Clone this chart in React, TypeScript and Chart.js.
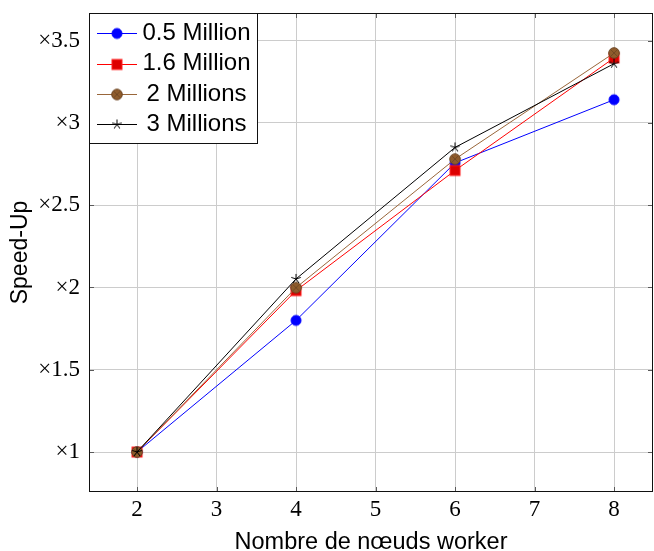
import React, { useEffect, useRef } from "react";
import { Chart, registerables } from "chart.js";

Chart.register(...registerables);

// ---- data ----
const xValues = [2, 4, 6, 8];
const seriesNames = ["0.5 Million", "1.6 Million", "2 Millions", "3 Millions"];
const speedup05 = [1, 1.8, 2.757, 3.141];
const speedup16 = [1, 1.981, 2.711, 3.395];
const speedup2 = [1, 1.999, 2.78, 3.425];
const speedup3 = [1, 2.052, 2.851, 3.36];
const xTicks = [2, 3, 4, 5, 6, 7, 8];
const yTicks = [1, 1.5, 2, 2.5, 3, 3.5];
const yTickLabels = ["×1", "×1.5", "×2", "×2.5", "×3", "×3.5"];
const xTitle = "Nombre de nœuds worker";
const yTitle = "Speed-Up";

const lineColors = ["#0000ff", "#ff0000", "#99663a", "#000000"];
const markerKinds = ["circle", "square", "otimes", "star"];

function makeMarker(kind: string): HTMLCanvasElement {
  const c = document.createElement("canvas");
  c.width = 16;
  c.height = 16;
  const ctx = c.getContext("2d")!;
  const cx = 8, cy = 8;
  ctx.lineWidth = 1;
  if (kind === "circle") {
    ctx.beginPath();
    ctx.arc(cx, cy, 5, 0, Math.PI * 2);
    ctx.fillStyle = "#0000ff";
    ctx.fill();
    ctx.strokeStyle = "#0000ff";
    ctx.stroke();
  } else if (kind === "square") {
    ctx.fillStyle = "#dd0000";
    ctx.fillRect(cx - 5, cy - 5, 10, 10);
    ctx.strokeStyle = "#ff2020";
    ctx.strokeRect(cx - 5, cy - 5, 10, 10);
  } else if (kind === "otimes") {
    ctx.beginPath();
    ctx.arc(cx, cy, 5.3, 0, Math.PI * 2);
    ctx.fillStyle = "#8f5c2c";
    ctx.fill();
    ctx.strokeStyle = "#6b4422";
    ctx.stroke();
    const d = 5.3 * Math.SQRT1_2;
    ctx.beginPath();
    ctx.moveTo(cx - d, cy - d);
    ctx.lineTo(cx + d, cy + d);
    ctx.moveTo(cx - d, cy + d);
    ctx.lineTo(cx + d, cy - d);
    ctx.strokeStyle = "#6b4422";
    ctx.lineWidth = 0.8;
    ctx.stroke();
  } else {
    ctx.beginPath();
    for (let k = 0; k < 5; k++) {
      const ang = -Math.PI / 2 + (k * 2 * Math.PI) / 5;
      ctx.moveTo(cx, cy);
      ctx.lineTo(cx + 5 * Math.cos(ang), cy + 5 * Math.sin(ang));
    }
    ctx.strokeStyle = "#000";
    ctx.lineWidth = 1;
    ctx.stroke();
  }
  return c;
}

const framePlugin = {
  id: "frame",
  afterDatasetsDraw(chart: any) {
    const { ctx, chartArea: a, scales } = chart;
    ctx.save();
    ctx.strokeStyle = "#5a5a5a";
    ctx.lineWidth = 1;
    ctx.beginPath();
    const L = 5;
    xTicks.forEach((v) => {
      const x = Math.round(scales.x.getPixelForValue(v)) + 0.5;
      ctx.moveTo(x, a.top);
      ctx.lineTo(x, a.top + L);
      ctx.moveTo(x, a.bottom);
      ctx.lineTo(x, a.bottom - L);
    });
    yTicks.forEach((v) => {
      const y = Math.round(scales.y.getPixelForValue(v)) + 0.5;
      ctx.moveTo(a.left, y);
      ctx.lineTo(a.left + L, y);
      ctx.moveTo(a.right, y);
      ctx.lineTo(a.right - L, y);
    });
    ctx.stroke();
    ctx.strokeStyle = "#111";
    ctx.strokeRect(a.left + 0.5, a.top + 0.5, a.right - a.left - 1, a.bottom - a.top - 1);
    ctx.restore();
  },
};

const legendPlugin = {
  id: "boxLegend",
  afterDraw(chart: any) {
    const { ctx, chartArea: a } = chart;
    const x0 = a.left, y0 = a.top, w = 168, h = 130;
    ctx.save();
    ctx.fillStyle = "#fff";
    ctx.fillRect(x0, y0, w, h);
    ctx.strokeStyle = "#111";
    ctx.lineWidth = 1;
    ctx.strokeRect(x0 + 0.5, y0 + 0.5, w, h);
    chart.data.datasets.forEach((ds: any, i: number) => {
      const cy = y0 + 20.3 + i * 30.4;
      ctx.beginPath();
      ctx.moveTo(x0 + 8, Math.round(cy) + 0.5);
      ctx.lineTo(x0 + 48, Math.round(cy) + 0.5);
      ctx.strokeStyle = ds.borderColor;
      ctx.lineWidth = 1;
      ctx.stroke();
      const img = ds.pointStyle as HTMLCanvasElement;
      ctx.drawImage(img, x0 + 28 - img.width / 2, Math.round(cy) + 0.5 - img.height / 2);
      ctx.fillStyle = "#000";
      ctx.font = '24px "Liberation Sans"';
      ctx.textAlign = "center";
      ctx.textBaseline = "middle";
      ctx.fillText(ds.label, x0 + 107.5, cy);
    });
    ctx.restore();
  },
};

function zeroPad(s: any) {
  s.paddingTop = 0;
  s.paddingBottom = 0;
  s.paddingLeft = 0;
  s.paddingRight = 0;
}

export default function App() {
  const ref = useRef<HTMLCanvasElement | null>(null);
  useEffect(() => {
    const canvas = ref.current!;
    const series = [speedup05, speedup16, speedup2, speedup3];
    const chart = new Chart(canvas, {
      type: "line",
      data: {
        datasets: series.map((s, i) => ({
          label: seriesNames[i],
          data: s.map((v, j) => ({ x: xValues[j], y: v })),
          borderColor: lineColors[i],
          backgroundColor: lineColors[i],
          borderWidth: 1,
          pointStyle: makeMarker(markerKinds[i]) as any,
          pointRadius: 6,
          pointHoverRadius: 6,
          tension: 0,
          fill: false,
          order: 3 - i,
        })),
      },
      options: {
        responsive: false,
        animation: false,
        events: [],
        layout: { autoPadding: false, padding: { left: 0, top: 13, right: 1, bottom: 0 } },
        plugins: { legend: { display: false }, tooltip: { enabled: false } },
        scales: {
          x: {
            type: "linear",
            min: 1.396,
            max: 8.49,
            afterBuildTicks: (s: any) => {
              s.ticks = xTicks.map((v) => ({ value: v }));
            },
            afterFit: (s: any) => {
              s.height = 59;
              zeroPad(s);
            },
            grid: { color: "#cccccc", lineWidth: 1, drawTicks: false },
            border: { display: false },
            ticks: {
              padding: 4,
              color: "#000",
              font: { family: '"Liberation Serif"', size: 23 },
              maxRotation: 0,
              callback: (v: any) => String(v),
            },
            title: {
              display: true,
              text: xTitle,
              color: "#000",
              font: { family: '"Liberation Sans"', size: 23.5, lineHeight: 0.8 },
              padding: { top: 0, bottom: -1.2 },
            },
          },
          y: {
            type: "linear",
            min: 0.757,
            max: 3.668,
            afterBuildTicks: (s: any) => {
              s.ticks = yTicks.map((v) => ({ value: v }));
            },
            afterFit: (s: any) => {
              s.width = 89;
              zeroPad(s);
            },
            grid: { color: "#cccccc", lineWidth: 1, drawTicks: false },
            border: { display: false },
            ticks: {
              padding: 9,
              color: "#000",
              font: { family: '"Liberation Serif"', size: 23 },
              callback: (v: any) => {
                const k = yTicks.indexOf(Number(v));
                return k >= 0 ? yTickLabels[k] : "";
              },
            },
            title: {
              display: true,
              text: yTitle,
              color: "#000",
              font: { family: '"Liberation Sans"', size: 23, lineHeight: 1.2 },
              padding: { top: 7, bottom: 0 },
            },
          },
        },
      },
      plugins: [framePlugin, legendPlugin],
    });
    return () => chart.destroy();
  }, []);
  return (
    <div style={{ position: "absolute", left: 0, top: 0, width: 654, height: 551 }}>
      <canvas ref={ref} width={654} height={551} style={{ display: "block" }} />
    </div>
  );
}
